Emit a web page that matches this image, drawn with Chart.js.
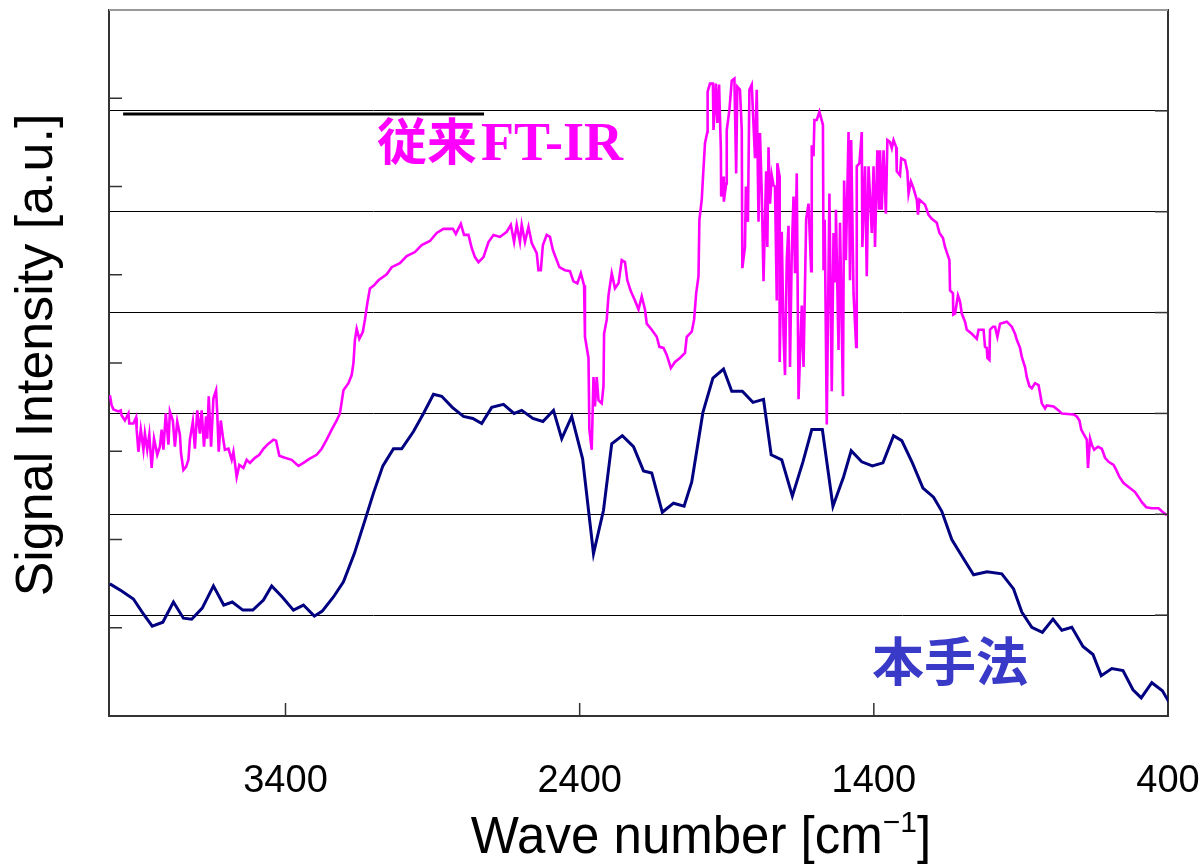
<!DOCTYPE html>
<html>
<head>
<meta charset="utf-8">
<script src="https://cdn.jsdelivr.net/npm/chart.js@4.4.1/dist/chart.umd.min.js"></script>
<style>
  html, body { margin: 0; padding: 0; background: #fff; }
  #wrap { width: 1201px; height: 866px; }
</style>
</head>
<body>
<div id="wrap"><canvas id="chart" width="1201" height="866"></canvas></div>
<script>
// 本手法 (proposed method)
const proposedX = [
  3997,3957,3917,3885,3853,3817,3781,3747,3719,3683,
  3645,3610,3581,3545,3511,3475,3447,3411,3373,3339,
  3302,3275,3237,3203,3166,3130,3101,3069,3033,3005,
  2965,2931,2897,2869,2833,2795,2763,2733,2699,2659,
  2623,2597,2559,2525,2489,2461,2427,2390,2353,2319,
  2291,2255,2217,2183,2155,2119,2081,2045,2019,1981,
  1947,1911,1883,1847,1811,1775,1749,1713,1677,1641,
  1611,1575,1539,1503,1477,1441,1405,1369,1333,1305,
  1269,1233,1197,1169,1135,1095,1061,1015,965,925,
  897,863,827,791,761,727,689,655,627,591,
  553,519,491,455,419,393
];
const proposedY = [
  1.31,1.24,1.16,1.02,0.89,0.93,1.13,0.97,0.96,1.07,
  1.29,1.10,1.13,1.05,1.05,1.15,1.29,1.18,1.05,1.10,
  0.99,1.04,1.18,1.33,1.61,1.94,2.21,2.48,2.65,2.65,
  2.82,3.00,3.19,3.17,3.06,2.97,2.95,2.90,3.06,3.09,
  3.00,3.03,2.95,2.92,3.03,2.75,2.97,2.55,1.61,2.04,
  2.70,2.78,2.67,2.43,2.41,2.02,2.11,2.08,2.32,3.01,
  3.35,3.44,3.22,3.22,3.11,3.14,2.59,2.54,2.18,2.52,
  2.84,2.84,2.08,2.37,2.63,2.52,2.48,2.51,2.78,2.73,
  2.51,2.26,2.17,2.03,1.75,1.56,1.40,1.43,1.41,1.26,
  1.03,0.88,0.83,0.96,0.85,0.88,0.69,0.61,0.40,0.47,
  0.45,0.26,0.18,0.33,0.25,0.12
];

// 従来FT-IR (conventional FT-IR)
const ftirX = [
  3997,3991,3985,3968,3960,3957,3946,3934,3931,3917,
  3908,3906,3900,3892,3883,3878,3870,3863,3855,3847,
  3840,3836,3827,3821,3815,3807,3798,3793,3783,3776,
  3768,3759,3755,3747,3738,3730,3725,3715,3708,3700,
  3691,3685,3677,3670,3666,3661,3653,3645,3636,3632,
  3627,3620,3613,3606,3594,3583,3577,3572,3566,3557,
  3543,3532,3521,3504,3489,3475,3458,3441,3432,3421,
  3402,3379,3356,3339,3319,3294,3277,3260,3243,3226,
  3215,3203,3186,3175,3169,3164,3158,3149,3137,3130,
  3122,3113,3099,3084,3056,3039,3011,2988,2960,2937,
  2909,2886,2863,2831,2821,2804,2793,2778,2767,2756,
  2744,2727,2710,2693,2671,2648,2634,2623,2614,2603,
  2597,2586,2574,2563,2546,2540,2532,2525,2512,2501,
  2491,2478,2469,2450,2433,2421,2408,2396,2385,2382,
  2370,2367,2359,2353,2348,2342,2336,2325,2319,2317,
  2308,2302,2291,2280,2268,2257,2246,2238,2226,2212,
  2200,2189,2178,2172,2155,2138,2129,2115,2104,2090,
  2076,2059,2042,2036,2019,2011,2004,1996,1993,1985,
  1981,1974,1966,1965,1957,1947,1945,1937,1932,1926,
  1920,1919,1911,1910,1902,1900,1891,1883,1874,1868,
  1864,1855,1849,1847,1838,1835,1828,1823,1815,1804,
  1798,1792,1787,1781,1775,1766,1762,1758,1753,1747,
  1741,1736,1730,1728,1721,1720,1713,1707,1702,1696,
  1690,1685,1679,1673,1668,1662,1656,1645,1639,1630,
  1622,1613,1611,1605,1602,1594,1585,1573,1571,1567,
  1560,1551,1543,1537,1532,1529,1520,1515,1505,1501,
  1495,1486,1481,1477,1469,1460,1458,1449,1441,1439,
  1430,1424,1418,1407,1401,1396,1388,1382,1379,1373,
  1367,1359,1354,1345,1339,1333,1324,1322,1311,1307,
  1294,1286,1282,1274,1265,1254,1250,1245,1226,1214,
  1203,1186,1177,1165,1158,1143,1141,1131,1130,1124,
  1114,1107,1101,1090,1084,1067,1050,1044,1027,1022,
  1016,1014,1007,1005,995,988,980,971,948,931,
  920,914,903,897,886,880,871,863,852,840,
  835,829,818,812,789,772,761,721,710,701,
  695,682,676,672,665,659,651,638,625,614,
  602,585,576,565,551,534,512,500,489,474,
  455,432,421,404
];
const ftirY = [
  3.18,3.08,3.04,3.02,3.03,2.98,2.93,3.00,2.90,2.90,
  2.96,2.84,2.62,2.84,2.64,2.80,2.64,2.79,2.46,2.75,
  2.65,2.59,2.67,2.84,2.64,3.00,2.69,3.02,2.93,2.67,
  2.92,2.79,2.60,2.44,2.47,2.54,2.74,2.92,2.65,3.03,
  2.80,3.03,2.67,2.97,2.75,3.17,2.67,3.15,3.23,3.00,
  2.62,2.93,2.77,2.64,2.65,2.54,2.62,2.51,2.37,2.49,
  2.46,2.54,2.51,2.56,2.59,2.65,2.70,2.74,2.73,2.58,
  2.56,2.54,2.48,2.51,2.55,2.59,2.65,2.74,2.84,2.93,
  3.00,3.23,3.30,3.38,3.50,3.73,3.84,3.74,3.81,3.93,
  4.09,4.24,4.27,4.32,4.38,4.45,4.49,4.56,4.60,4.67,
  4.71,4.79,4.83,4.83,4.78,4.88,4.77,4.77,4.64,4.55,
  4.50,4.55,4.70,4.77,4.75,4.80,4.87,4.70,4.87,4.70,
  4.87,4.70,4.85,4.69,4.59,4.42,4.42,4.67,4.77,4.75,
  4.62,4.52,4.45,4.42,4.41,4.31,4.29,4.39,4.27,3.76,
  3.55,2.84,2.64,3.36,3.07,3.36,3.13,3.10,3.27,3.79,
  3.93,4.17,4.39,4.24,4.29,4.52,4.50,4.32,4.21,4.12,
  4.03,4.16,4.03,3.89,3.83,3.76,3.66,3.65,3.58,3.45,
  3.51,3.55,3.60,3.76,3.81,3.93,4.19,4.36,4.92,5.12,
  5.33,5.68,5.79,6.19,6.27,6.27,5.81,6.27,5.88,6.26,
  5.61,5.15,5.35,5.10,5.28,5.81,6.01,6.30,6.32,5.38,
  6.24,6.21,5.81,4.44,4.65,5.25,4.90,6.21,6.26,5.53,
  6.21,4.90,5.78,5.18,4.31,5.40,4.65,5.64,5.08,5.36,
  5.26,5.25,4.12,5.48,5.36,3.51,4.80,3.78,3.38,4.52,
  4.86,3.46,4.59,5.15,4.39,5.38,3.14,4.07,3.46,4.93,
  5.08,4.41,5.66,5.55,5.91,5.91,5.99,5.86,4.42,4.92,
  2.89,5.18,3.22,4.79,4.31,5.02,3.63,4.89,3.17,5.31,
  4.52,5.79,4.32,5.71,4.19,3.66,5.45,5.48,5.79,4.65,
  5.45,4.36,5.45,4.79,5.45,4.65,5.61,5.02,5.61,5.02,
  5.61,4.98,5.71,5.69,5.63,5.71,5.64,5.40,5.36,5.53,
  5.51,5.40,5.18,5.30,5.23,5.12,4.97,5.12,5.07,4.97,
  4.93,4.89,4.79,4.74,4.65,4.52,4.22,4.19,3.98,3.99,
  4.17,4.11,3.99,3.91,3.83,3.79,3.74,3.83,3.83,3.66,
  3.65,3.55,3.53,3.83,3.86,3.86,3.76,3.89,3.91,3.86,
  3.79,3.73,3.65,3.56,3.46,3.36,3.27,3.25,3.30,3.28,
  3.20,3.10,3.05,3.08,3.07,3.03,3.00,2.99,2.97,2.93,
  2.84,2.77,2.74,2.46,2.75,2.69,2.64,2.67,2.65,2.56,
  2.52,2.49,2.44,2.37,2.31,2.27,2.22,2.17,2.12,2.07,
  2.06,2.06,2.03,1.99
];

// black bar at the top left
const barX = [3952, 2725];
const barY = [5.97, 5.97];

const xTicks = [3400, 2400, 1400, 400];
const gridTicks = [1, 2, 3, 4, 5, 6];
const leftTicks = [1, 2, 3, 4, 5, 6, 7];

const toPoints = (xs, ys) => xs.map((x, i) => ({ x, y: ys[i] }));

const decor = {
  id: "decor",
  afterDraw(chart) {
    const { ctx, chartArea: a, scales } = chart;
    const line = (x1, y1, x2, y2) => { ctx.beginPath(); ctx.moveTo(x1, y1); ctx.lineTo(x2, y2); ctx.stroke(); };
    ctx.save();
    ctx.strokeStyle = "#999";
    ctx.lineWidth = 2;
    line(a.left, a.top, a.right, a.top);

    ctx.strokeStyle = "#333";
    ctx.lineWidth = 1.5;
    xTicks.forEach((v) => { const x = scales.x.getPixelForValue(v); line(x, a.bottom, x, a.bottom - 13); });
    leftTicks.forEach((v) => { const y = scales.y2.getPixelForValue(v); line(a.left, y, a.left + 13, y); });
    gridTicks.forEach((v) => { const y = scales.y.getPixelForValue(v); line(a.right - 13, y, a.right, y); });

    ctx.fillStyle = "#000";
    ctx.textAlign = "center";
    ctx.textBaseline = "alphabetic";
    ctx.font = '38px "Liberation Sans", Arial, sans-serif';
    xTicks.forEach((v) => ctx.fillText(String(v), scales.x.getPixelForValue(v), 792));

    // x title with superscript
    const big = '51px "Liberation Sans", Arial, sans-serif';
    const small = '30px "Liberation Sans", Arial, sans-serif';
    const p1 = "Wave number [cm", p2 = "−1", p3 = "]";
    ctx.font = big; const w1 = ctx.measureText(p1).width, w3 = ctx.measureText(p3).width;
    ctx.font = small; const w2 = ctx.measureText(p2).width;
    const x0 = 701 - (w1 + w2 + w3) / 2;
    ctx.textAlign = "left";
    ctx.font = big; ctx.fillText(p1, x0, 853);
    ctx.font = small; ctx.fillText(p2, x0 + w1, 832);
    ctx.font = big; ctx.fillText(p3, x0 + w1 + w2, 853);

    // y title
    ctx.save();
    ctx.translate(52, 355);
    ctx.rotate(-Math.PI / 2);
    ctx.textAlign = "center";
    ctx.font = '52px "Liberation Sans", Arial, sans-serif';
    ctx.fillText("Signal Intensity [a.u.]", 0, 0);
    ctx.restore();

    // series labels
    ctx.textAlign = "left";
    ctx.fillStyle = "#ff00ff";
    ctx.font = 'bold 50px "Noto Sans CJK JP", sans-serif';
    ctx.fillText("従来", 377, 160);
    const wj = ctx.measureText("従来").width;
    ctx.font = 'bold 54px "Liberation Serif", "Times New Roman", serif';
    ctx.fillText("FT-IR", 377 + wj + 4, 160);

    ctx.fillStyle = "#3a3ac8";
    ctx.font = 'bold 52px "Noto Sans CJK JP", sans-serif';
    ctx.fillText("本手法", 872, 681);
    ctx.restore();
  },
};

new Chart(document.getElementById("chart"), {
  type: "line",
  data: {
    datasets: [
      { label: "従来FT-IR", data: toPoints(ftirX, ftirY), borderColor: "#ff00ff", borderWidth: 2.6, pointRadius: 0, tension: 0, yAxisID: "y" },
      { label: "本手法", data: toPoints(proposedX, proposedY), borderColor: "#000080", borderWidth: 3, pointRadius: 0, tension: 0, yAxisID: "y" },
      { label: "bar", data: toPoints(barX, barY), borderColor: "#000", borderWidth: 3, pointRadius: 0, yAxisID: "y" },
    ],
  },
  options: {
    responsive: false,
    animation: false,
    devicePixelRatio: 1,
    layout: { padding: { left: 109, right: 33, top: 10, bottom: 150 } },
    plugins: { legend: { display: false }, tooltip: { enabled: false } },
    scales: {
      x: {
        type: "linear", position: "bottom", min: 400, max: 4000, reverse: true,
        grid: { display: false, drawTicks: false },
        ticks: { display: false },
        border: { display: true, color: "#333", width: 2 },
      },
      y: {
        type: "linear", position: "right", min: 0, max: 7,
        afterBuildTicks: (s) => { s.ticks = gridTicks.map((v) => ({ value: v })); },
        grid: { color: "#000", lineWidth: 1, drawTicks: false },
        ticks: { display: false },
        border: { display: true, color: "#333", width: 2 },
      },
      y2: {
        type: "linear", position: "left", min: 0, max: 8,
        grid: { display: false, drawTicks: false },
        ticks: { display: false },
        border: { display: true, color: "#333", width: 2 },
      },
    },
  },
  plugins: [decor],
});
</script>
</body>
</html>
